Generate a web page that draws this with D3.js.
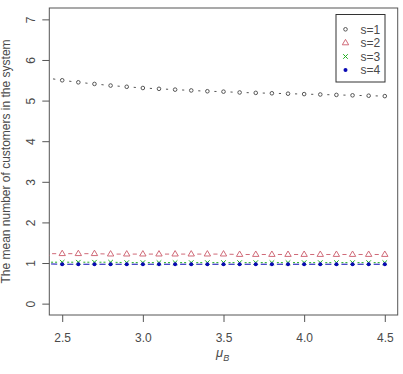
<!DOCTYPE html>
<html><head><meta charset="utf-8">
<script src="https://cdn.jsdelivr.net/npm/d3@7"></script>
<style>body{margin:0;background:#fff}svg{display:block}text{font-family:"Liberation Sans",Arial,sans-serif}</style>
</head><body>
<script>
const muB = [2.4,2.5,2.6,2.7,2.8,2.9,3.0,3.1,3.2,3.3,3.4,3.5,3.6,3.7,3.8,3.9,4.0,4.1,4.2,4.3,4.4,4.5];
const s1 = [5.56,5.50,5.45,5.41,5.37,5.34,5.31,5.29,5.27,5.25,5.23,5.22,5.20,5.19,5.18,5.17,5.16,5.15,5.14,5.13,5.12,5.11];
const s2 = [1.23,1.23,1.23,1.23,1.22,1.22,1.22,1.22,1.22,1.22,1.22,1.22,1.21,1.21,1.21,1.21,1.21,1.21,1.21,1.21,1.21,1.21];
const s3 = [1.02,1.02,1.02,1.02,1.02,1.01,1.01,1.01,1.01,1.01,1.01,1.01,1.01,1.01,1.01,1.01,1.01,1.01,1.01,1.01,1.01,1.01];
const s4 = [0.98,0.97,0.97,0.97,0.97,0.97,0.97,0.97,0.97,0.97,0.97,0.97,0.97,0.97,0.97,0.97,0.97,0.97,0.97,0.97,0.97,0.97];
const seriesNames = ["s=1","s=2","s=3","s=4"];
const xTicks = [2.5,3.0,3.5,4.0,4.5];
const yTicks = [0,1,2,3,4,5,6,7];

const W = 403, H = 374;
const L = 49.3, R = 397.7, T = 8, B = 315;
const svg = d3.select("body").append("svg").attr("width", W).attr("height", H);
const x = d3.scaleLinear().domain([2.42, 4.58]).range([L, R]);
const y = d3.scaleLinear().domain([-0.28, 7.28]).range([B, T]);

svg.append("clipPath").attr("id","clip").append("rect")
  .attr("x", L).attr("y", T).attr("width", R-L).attr("height", B-T);

const axCol = "#555", txtCol = "#4a4a4a";
// y axis
const ya = svg.append("g").attr("transform", `translate(${L},0)`)
  .call(d3.axisLeft(y).tickValues(yTicks).tickSize(7).tickSizeOuter(0).tickFormat(d3.format("d")));
ya.select(".domain").remove();
ya.selectAll("line").attr("stroke", axCol);
ya.selectAll("text").attr("fill", txtCol).style("font-size","12px")
  .attr("text-anchor","middle").attr("dy", null).attr("x", null)
  .attr("transform", `translate(${34.5-L},0) rotate(-90)`)
  .attr("y", 0);
// x axis
const xa = svg.append("g").attr("transform", `translate(0,${B})`)
  .call(d3.axisBottom(x).tickValues(xTicks).tickSize(7).tickSizeOuter(0).tickFormat(d3.format(".1f")));
xa.select(".domain").remove();
xa.selectAll("line").attr("stroke", axCol);
xa.selectAll("text").attr("fill", txtCol).style("font-size","12px").attr("dy", null).attr("y", 341.5 - B);

// box
svg.append("rect").attr("x", L).attr("y", T).attr("width", R-L).attr("height", B-T)
  .attr("fill","none").attr("stroke", axCol).attr("stroke-width",1);

// labels
const xl = svg.append("text").attr("x", 216).attr("y", 356.5).attr("fill", txtCol).style("font-size","13px");
xl.append("tspan").text("μ").style("font-style","italic");
xl.append("tspan").text("B").attr("dy", 4).style("font-size","9px").style("font-style","italic");
svg.append("text").attr("transform", `translate(9.5,${(T+B)/2}) rotate(-90)`)
  .attr("text-anchor","middle").attr("fill", txtCol).style("font-size","12px")
  .text("The mean number of customers in the system");

const series = [
  {vals: s1, col: "#555", gap: 7, dash: null, pch: "circle"},
  {vals: s2, col: "#d06a78", gap: 6, dash: null, pch: "tri"},
  {vals: s3, col: "#22b022", gap: 5, dash: "2,2", pch: "x"},
  {vals: s4, col: "#0a0ab4", gap: 5, dash: null, pch: "dot"}
];
const plot = svg.append("g").attr("clip-path","url(#clip)");

function segs(vals, g){
  const out = [];
  for (let i=0;i<vals.length-1;i++){
    const x0=x(muB[i]), y0=y(vals[i]), x1=x(muB[i+1]), y1=y(vals[i+1]);
    const dx=x1-x0, dy=y1-y0, d=Math.hypot(dx,dy);
    if (d <= 2*g) continue;
    out.push([x0+dx*g/d, y0+dy*g/d, x1-dx*g/d, y1-dy*g/d]);
  }
  return out;
}
function drawSym(g, pch, col, cx, cy){
  if (pch==="circle") g.append("circle").attr("cx",cx).attr("cy",cy).attr("r",1.8).attr("fill","none").attr("stroke",col).attr("stroke-width",1);
  else if (pch==="tri") g.append("path").attr("d",`M${cx},${cy-3.5}L${cx+3.2},${cy+1.9}L${cx-3.2},${cy+1.9}Z`).attr("fill","none").attr("stroke",col).attr("stroke-width",1);
  else if (pch==="x") g.append("path").attr("d",`M${cx-2.3},${cy-2.3}L${cx+2.3},${cy+2.3}M${cx-2.3},${cy+2.3}L${cx+2.3},${cy-2.3}`).attr("stroke",col).attr("stroke-width",1);
  else g.append("circle").attr("cx",cx).attr("cy",cy).attr("r",2).attr("fill",col);
}
series.forEach(s => {
  const gs = plot.append("g");
  gs.selectAll("line").data(segs(s.vals, s.gap)).join("line")
    .attr("x1",d=>d[0]).attr("y1",d=>d[1]).attr("x2",d=>d[2]).attr("y2",d=>d[3])
    .attr("stroke", s.col).attr("stroke-width",1).attr("stroke-dasharray", s.dash);
  s.vals.forEach((v,i) => drawSym(gs, s.pch, s.col, x(muB[i]), y(v)));
});

// legend
const lg = svg.append("g");
lg.append("rect").attr("x",336).attr("y",14.5).attr("width",49).attr("height",67.5)
  .attr("fill","#fff").attr("stroke","#333").attr("stroke-width",1);
series.forEach((s,i) => {
  const cy = 29.3 + i*13.6;
  drawSym(lg, s.pch, s.col, 345.5, cy);
  lg.append("text").attr("x",360.5).attr("y",cy+4.2).attr("fill",txtCol).style("font-size","12px").text(seriesNames[i]);
});
</script>
</body></html>
